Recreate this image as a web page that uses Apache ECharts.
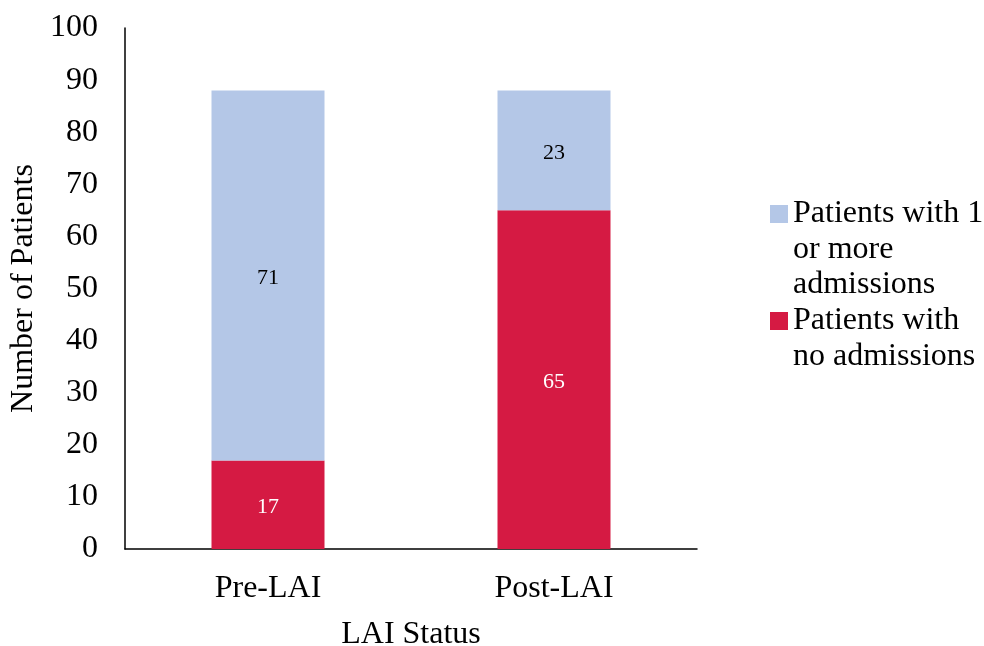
<!DOCTYPE html>
<html>
<head>
<meta charset="utf-8">
<script src="https://cdn.jsdelivr.net/npm/echarts@6/dist/echarts.min.js"></script>
<style>html,body{margin:0;padding:0;background:#fff}#chart{width:984px;height:646px}</style>
</head>
<body>
<div id="chart"></div>
<script>
// Hospital admissions before and after LAI
const categories = ['Pre-LAI', 'Post-LAI'];
const noAdmissions = [17, 65];
const oneOrMore = [71, 23];
const seriesNames = ['Patients with no admissions', 'Patients with 1 or more admissions'];
const legendLines = {
  'Patients with 1 or more admissions': ['Patients with 1', 'or more', 'admissions'],
  'Patients with no admissions': ['Patients with', 'no admissions']
};
const colors = { blue: '#B4C7E7', red: '#D51A43' };
const font = '"Liberation Serif", "Times New Roman", serif';
const bigFont = 32;

const chart = echarts.init(document.getElementById('chart'), null, { renderer: 'canvas' });

function legendFormatter(name) {
  const lines = legendLines[name];
  const key = name === seriesNames[0] ? 'sqr' : 'sqb';
  return lines.map((l, i) => (i === 0 ? '{' + key + '|}{gap|}' : '{pad|}') + '{t|' + l + '}').join('\n');
}

chart.setOption({
  animation: false,
  textStyle: { fontFamily: font },
  grid: { left: 125, right: 287, top: 28, bottom: 97, containLabel: false, outerBoundsMode: 'none' },
  legend: {
    orient: 'vertical',
    left: 760,
    top: 193,
    data: [seriesNames[1], seriesNames[0]],
    itemWidth: 0,
    itemHeight: 0,
    itemGap: 4,
    selectedMode: false,
    icon: 'rect',
    formatter: legendFormatter,
    textStyle: {
      fontFamily: font,
      rich: {
        t: { fontFamily: font, fontSize: bigFont, color: '#000', lineHeight: 35.5 },
        sqb: { backgroundColor: colors.blue, width: 18, height: 18 },
        sqr: { backgroundColor: colors.red, width: 18, height: 18 },
        gap: { width: 5 },
        pad: { width: 23 }
      }
    }
  },
  xAxis: {
    type: 'category',
    data: categories,
    name: 'LAI Status',
    nameLocation: 'middle',
    nameGap: 70,
    nameTextStyle: { fontFamily: font, fontSize: bigFont, color: '#000' },
    axisLine: { lineStyle: { color: '#000', width: 1.5 } },
    axisTick: { show: false },
    axisLabel: { fontFamily: font, fontSize: bigFont, color: '#000', margin: 24 }
  },
  yAxis: {
    type: 'value',
    min: 0,
    max: 100,
    interval: 10,
    name: 'Number of Patients',
    nameLocation: 'middle',
    nameGap: 79,
    nameTextStyle: { fontFamily: font, fontSize: bigFont, color: '#000' },
    axisLine: { show: true, lineStyle: { color: '#000', width: 1.5 } },
    axisTick: { show: false },
    splitLine: { show: false },
    axisLabel: { fontFamily: font, fontSize: bigFont, color: '#000', margin: 27 }
  },
  series: [
    {
      name: seriesNames[0],
      type: 'bar',
      stack: 'total',
      data: noAdmissions,
      barWidth: 113,
      itemStyle: { color: colors.red },
      label: { show: true, position: 'inside', offset: [0, 3], color: '#fff', fontFamily: font, fontSize: 22 }
    },
    {
      name: seriesNames[1],
      type: 'bar',
      stack: 'total',
      data: oneOrMore,
      barWidth: 113,
      itemStyle: { color: colors.blue },
      label: { show: true, position: 'inside', offset: [0, 3], color: '#000', fontFamily: font, fontSize: 22 }
    }
  ]
});
</script>
</body>
</html>
